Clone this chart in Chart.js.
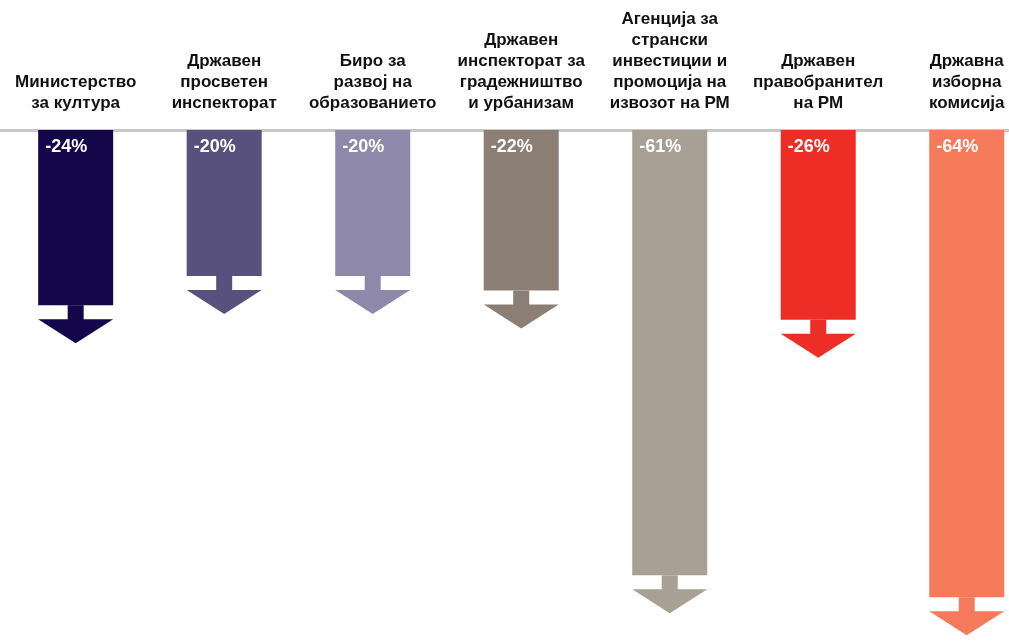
<!DOCTYPE html>
<html>
<head>
<meta charset="utf-8">
<script src="https://cdn.jsdelivr.net/npm/chart.js@4.4.1/dist/chart.umd.min.js"></script>
<style>
    html, body { margin: 0; padding: 0; background: #fff; overflow: hidden; }
    #wrap { position: absolute; left: -1px; top: 0; width: 1042px; height: 641px; }
</style>
</head>
<body>
<div id="wrap"><canvas id="chart"></canvas></div>
<script>
// Институции (подписи над оската)
const institutions = [
    ['Министерство', 'за култура'],
    ['Државен', 'просветен', 'инспекторат'],
    ['Биро за', 'развој на', 'образованието'],
    ['Државен', 'инспекторат за', 'градежништво', 'и урбанизам'],
    ['Агенција за', 'странски', 'инвестиции и', 'промоција на', 'извозот на РМ'],
    ['Државен', 'правобранител', 'на РМ'],
    ['Државна', 'изборна', 'комисија']
];
// Промена во проценти
const changes = [-24, -20, -20, -22, -61, -26, -64];
const arrowColors = ['#13064a', '#58517d', '#8e88aa', '#8b7f75', '#a89f95', '#ee2e26', '#f47a5a'];

// Стрелка под секој столб + вредност во горниот дел
const arrowPlugin = {
    id: 'arrows',
    afterDatasetsDraw(chart) {
        const ctx = chart.ctx;
        const meta = chart.getDatasetMeta(0);
        meta.data.forEach((bar, i) => {
            const half = bar.width / 2;
            const bottom = bar.y;
            ctx.save();
            ctx.fillStyle = arrowColors[i];
            // стебло
            ctx.fillRect(bar.x - 8, bottom, 16, 15);
            // врв
            ctx.beginPath();
            ctx.moveTo(bar.x - half, bottom + 14);
            ctx.lineTo(bar.x + half, bottom + 14);
            ctx.lineTo(bar.x, bottom + 38);
            ctx.closePath();
            ctx.fill();
            // процент
            ctx.fillStyle = '#ffffff';
            ctx.font = 'bold 18px "Liberation Sans", Arial, sans-serif';
            ctx.textAlign = 'left';
            ctx.textBaseline = 'middle';
            ctx.fillText(changes[i] + '%', bar.x - half + 7, bar.base + 17);
            ctx.restore();
        });
    }
};

new Chart(document.getElementById('chart'), {
    type: 'bar',
    data: {
        labels: institutions,
        datasets: [{
            data: changes,
            backgroundColor: arrowColors,
            borderWidth: 0,
            categoryPercentage: 1,
            barPercentage: 0.505
        }]
    },
    options: {
        responsive: true,
        maintainAspectRatio: false,
        animation: false,
        layout: { padding: { top: 9, left: 0, right: 0, bottom: 0 } },
        plugins: {
            legend: { display: false },
            tooltip: { enabled: false }
        },
        scales: {
            x: {
                position: 'top',
                grid: { display: false, drawTicks: false },
                border: { display: true, color: '#c8c8c8', width: 3 },
                afterFit: (scale) => { scale.height = 121; },
                ticks: {
                    color: '#111111',
                    padding: 16,
                    maxRotation: 0,
                    autoSkip: false,
                    font: { family: '"Liberation Sans", Arial, sans-serif', size: 17, weight: 'bold', lineHeight: 1.24 }
                }
            },
            y: {
                display: false,
                min: -70,
                max: 0
            }
        }
    },
    plugins: [arrowPlugin]
});
</script>
</body>
</html>
